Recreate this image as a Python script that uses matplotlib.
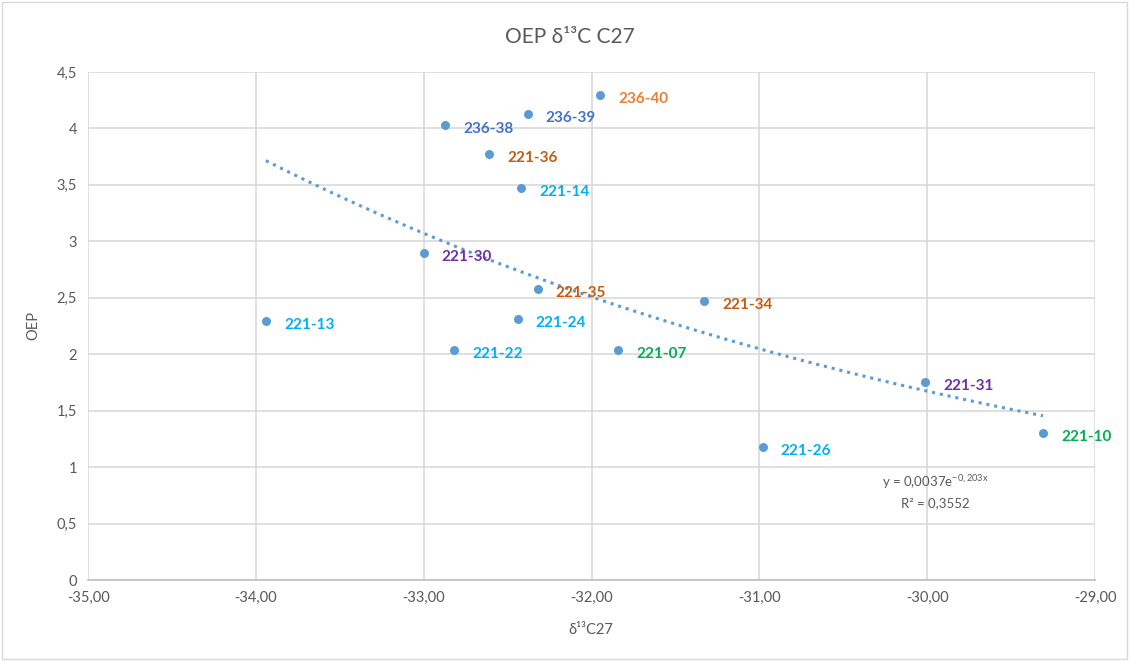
import matplotlib
matplotlib.use("Agg")
import matplotlib.pyplot as plt
from matplotlib.ticker import FuncFormatter, MultipleLocator
import numpy as np

plt.rcParams['font.family'] = ['Lato', 'DejaVu Sans']
plt.rcParams['mathtext.fontset'] = 'custom'
plt.rcParams['mathtext.rm'] = 'Lato'
plt.rcParams['mathtext.it'] = 'Lato'

# data
samples = ['221-13', '221-30', '236-38', '221-22', '221-36', '236-39', '221-14', '221-24',
           '221-35', '236-40', '221-07', '221-34', '221-26', '221-31', '221-10']
d13c = [-33.94, -33.00, -32.87, -32.82, -32.61, -32.38, -32.42, -32.44,
        -32.32, -31.95, -31.84, -31.33, -30.98, -30.01, -29.31]
oep = [2.29, 2.90, 4.03, 2.04, 3.77, 4.13, 3.47, 2.31,
       2.58, 4.30, 2.04, 2.47, 1.18, 1.75, 1.30]
label_colors = ['#00B0F0', '#7030A0', '#4472C4', '#00B0F0', '#C55A11', '#4472C4', '#00B0F0', '#00B0F0',
                '#C55A11', '#ED7D31', '#00B050', '#C55A11', '#00B0F0', '#7030A0', '#00B050']

eq_text = 'y = 0,0037e$^{-0,203x}$'
r2_text = 'R² = 0,3552'

grey = '#595959'

fig = plt.figure(figsize=(11.3, 6.61), dpi=100)
ax = fig.add_axes([88 / 1130, 1 - 580 / 661, (1095 - 88) / 1130, (580 - 72) / 661])

# exponential trendline fitted to the points (like Excel does)
b, log_a = np.polyfit(d13c, np.log(oep), 1)
xs = np.linspace(min(d13c), max(d13c), 200)
ax.plot(xs, np.exp(log_a) * np.exp(b * xs), color='#5B9BD5', linestyle=(0, (1, 1.6)),
        linewidth=2.2, zorder=2)
ax.scatter(d13c, oep, s=42, color='#5B9BD5', zorder=3, linewidths=0)

for name, x, y, c in zip(samples, d13c, oep, label_colors):
    ax.annotate(name, (x, y), xytext=(18, -4), textcoords='offset pixels',
                color=c, fontsize=11, fontweight='bold', va='center', ha='left', zorder=4)

ax.text(-29.95, 0.87, eq_text, ha='center', va='center', fontsize=9.5, color=grey)
ax.text(-29.95, 0.68, r2_text, ha='center', va='center', fontsize=9.5, color=grey)

ax.set_xlim(-35, -29)
ax.set_ylim(0, 4.5)
ax.xaxis.set_major_locator(MultipleLocator(1))
ax.yaxis.set_major_locator(MultipleLocator(0.5))
ax.xaxis.set_major_formatter(FuncFormatter(lambda v, p: f'{v:.2f}'.replace('.', ',')))
ax.yaxis.set_major_formatter(FuncFormatter(lambda v, p: f'{v:g}'.replace('.', ',')))
ax.grid(True, color='#D9D9D9', linewidth=1.2, zorder=0)
ax.set_axisbelow(True)
for side in ['top', 'right', 'left']:
    ax.spines[side].set_visible(False)
ax.spines['bottom'].set_color('#BFBFBF')
ax.spines['bottom'].set_linewidth(1.2)
ax.tick_params(length=0, labelsize=10.5, colors=grey, pad=8)

fig.text(570 / 1130, 1 - 37 / 661, 'OEP δ¹³C C27', ha='center', va='center', fontsize=15, color=grey)
fig.text(33 / 1130, 1 - 326 / 661, 'OEP', rotation=90, ha='center', va='center', fontsize=10.5, color=grey)
fig.text(591 / 1130, 1 - 630 / 661, 'δ¹³C27', ha='center', va='center', fontsize=10.5, color=grey)

border = plt.Rectangle((0.002, 0.003), 0.995, 0.994, transform=fig.transFigure, fill=False,
                       edgecolor='#D9D9D9', linewidth=1)
fig.patches.append(border)

fig.savefig('out.png', dpi=100)
